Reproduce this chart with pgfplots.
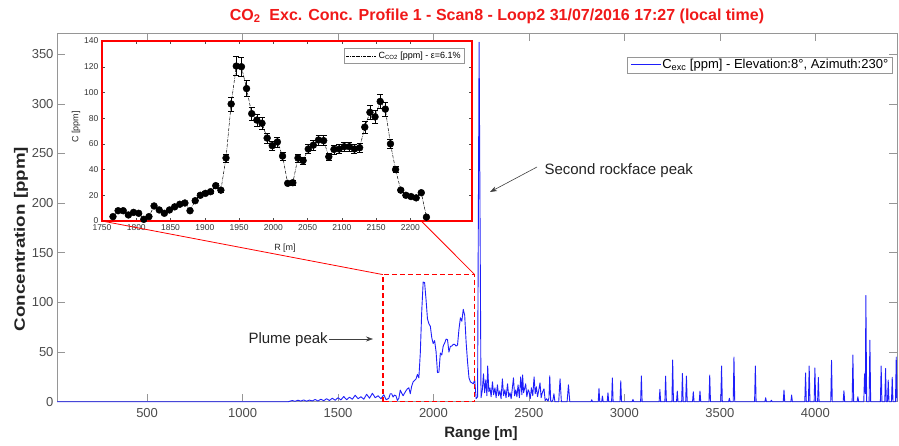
\documentclass[border=0pt]{standalone}
\usepackage{fontspec}
\setmainfont{Liberation Sans}
\usepackage{graphicx}
\usepackage{pgfplots}
\usepackage{pgfplotstable}
\pgfplotsset{compat=1.18}
\usetikzlibrary{arrows.meta}

\definecolor{sigblue}{RGB}{30,30,250}
\definecolor{framegray}{RGB}{150,150,150}
\definecolor{ticklab}{RGB}{75,75,75}
\definecolor{labdark}{RGB}{35,35,35}
\definecolor{titlered}{RGB}{240,25,25}

\newcommand{\fs}[1]{\fontsize{#1}{#1}\selectfont}

% Excess concentration along the line of sight (range in m, ppm)
\pgfplotstableread{
R C
28 0
1240 0
1245 0.3
1260 1.2
1275 0.4
1290 1.5
1305 0.6
1320 1.8
1335 0.5
1350 1.6
1365 0.8
1380 2.2
1395 0.7
1410 2.5
1425 1.0
1440 3.0
1455 1.2
1470 3.5
1485 1.5
1500 4.0
1515 1.8
1530 5.2
1545 2.0
1560 4.5
1575 2.5
1590 6.5
1605 3.0
1620 5.0
1635 2.5
1650 7.5
1665 3.5
1680 8.5
1695 4.0
1710 6.0
1725 3.0
1740 7.0
1752 2.0
1766.0 3.4
1773.5 8.0
1781.0 8.0
1788.5 4.7
1796.0 6.7
1803.5 6.0
1811.0 1.3
1818.5 3.4
1826.0 11.7
1833.5 8.6
1841.0 6.0
1848.5 8.6
1856.0 11.0
1863.5 13.0
1871.0 14.0
1878.5 8.0
1886.0 15.8
1893.5 20.0
1901.0 21.5
1908.5 22.8
1916.0 27.5
1923.5 24.0
1931.0 49.0
1938.5 91.0
1946.0 120.5
1953.5 120.0
1961.0 103.0
1968.5 83.5
1976.0 78.5
1983.5 76.0
1991.0 64.5
1998.5 58.6
2006.0 61.5
2013.5 50.5
2021.0 29.3
2028.5 29.8
2036.0 49.0
2043.5 47.0
2051.0 56.0
2058.5 59.0
2066.0 63.0
2073.5 62.5
2081.0 50.0
2088.5 55.7
2096.0 56.0
2103.5 57.8
2111.0 57.8
2118.5 56.0
2126.0 57.0
2133.5 73.0
2141.0 84.5
2148.5 81.0
2156.0 93.0
2163.5 87.0
2171.0 60.0
2178.5 40.0
2186.0 24.0
2193.5 20.0
2201.0 19.0
2208.5 18.0
2216.0 22.0
2223.5 3.0
2231 5
2239 362
2249 4
2256 12
2262 28
2268 9
2274 22
2280 6
2284 36
2290 10
2296 14
2302 5
2309 20
2315 7
2322 14
2328 4
2335 17
2341 6
2348 11
2354 3
2361 23
2367 6
2374 12
2380 4
2388 18
2394 5
2401 9
2407 3
2419 24
2425 6
2431 12
2437 5
2443 17
2450 4
2457 25
2463 7
2467 27
2472 9
2477 13
2483 18
2489 5
2496 12
2501 10
2507 3
2513 14
2520 6
2527 25
2533 8
2539 15
2545 5
2551 11
2558 19
2564 4
2570 9
2579 13
2585 1
2592 3
2600 0.5
2605 4
2609 26
2614 1
2620 0
2626 2
2631 8
2636 0
2656 0
2663 23
2670 0
2700 0
2707 17
2714 0
2825 0
2829 2
2833 0
2863 0
2867 13.4
2871 0
2881 0
2885 5.7
2889 0
2910 0
2914 9
2918 0
2933 0
2937 24
2941 0
2977 0
2981 21
2985 0
3041 0
3045 2.3
3049 0
3085 0
3089 26
3093 0
3182 0
3186 12.4
3190 0
3212 0
3216 25.8
3220 0
3249 0
3253 42
3257 0
3273 0
3277 10.7
3281 0
3300 0
3304 28.5
3308 0
3321 0
3325 25.8
3329 0
3357 0
3361 10
3365 0
3392 0
3396 10.7
3400 0
3443 0
3447 26.8
3451 0
3505 0
3509 36
3513 0
3546 0
3550 3.4
3554 0
3570 0
3574 45
3578 0
3682 0
3686 36
3690 0
3736 0
3740 4
3744 0
3766 0
3770 1.5
3774 0
3832 0
3836 11.7
3840 0
3872 0
3876 6.7
3880 0
3945 0
3949 29
3953 0
3964 0
3968 36
3972 0
3994 0
3998 34
4002 0
4012 0
4016 24.5
4020 0
4081 0
4085 41.6
4089 0
4146 0
4150 11
4154 0
4193 0
4197 47
4201 0
4219 0
4223 5
4227 0
4254 0
4258 28
4262 8
4265 107
4269 0
4282 0
4286 62
4290 0
4341 0
4345 36
4349 0
4364 0
4368 33.5
4372 0
4378 0
4382 21.8
4386 0
4399 0
4403 24.5
4407 0
4420 0
4424 45
4428 0
}\profile

% Plume section, 7.5 m range gates
\pgfplotstableread{
R C
1766.0 3.4
1773.5 8.0
1781.0 8.0
1788.5 4.7
1796.0 6.7
1803.5 6.0
1811.0 1.3
1818.5 3.4
1826.0 11.7
1833.5 8.6
1841.0 6.0
1848.5 8.6
1856.0 11.0
1863.5 13.0
1871.0 14.0
1878.5 8.0
1886.0 15.8
1893.5 20.0
1901.0 21.5
1908.5 22.8
1916.0 27.5
1923.5 24.0
1931.0 49.0
1938.5 91.0
1946.0 120.5
1953.5 120.0
1961.0 103.0
1968.5 83.5
1976.0 78.5
1983.5 76.0
1991.0 64.5
1998.5 58.6
2006.0 61.5
2013.5 50.5
2021.0 29.3
2028.5 29.8
2036.0 49.0
2043.5 47.0
2051.0 56.0
2058.5 59.0
2066.0 63.0
2073.5 62.5
2081.0 50.0
2088.5 55.7
2096.0 56.0
2103.5 57.8
2111.0 57.8
2118.5 56.0
2126.0 57.0
2133.5 73.0
2141.0 84.5
2148.5 81.0
2156.0 93.0
2163.5 87.0
2171.0 60.0
2178.5 40.0
2186.0 24.0
2193.5 20.0
2201.0 19.0
2208.5 18.0
2216.0 22.0
2223.5 3.0
}\plume

\begin{document}
\begin{tikzpicture}[x=1pt,y=1pt]
\useasboundingbox (0,0) rectangle (899,445);

% ---------- full profile ----------
\begin{axis}[
  at={(57pt,43.3pt)}, anchor=south west,
  scale only axis, width=840pt, height=368.4pt,
  xmin=28, xmax=4428, ymin=0, ymax=371,
  xtick={500,1000,...,4000}, ytick={0,50,...,350},
  tick align=inside, major tick length=8pt,
  tick style={framegray, line width=0.6pt},
  axis line style={framegray, line width=0.8pt},
  /pgf/number format/assume math mode=true,
  /pgf/number format/1000 sep={},
  ticklabel style={font=\fs{13}, text=ticklab},
  xticklabel style={yshift=-3pt},
  clip=false,
]
\addplot[sigblue, line width=0.9pt, line join=round] table[x=R, y=C] {\profile};
\draw[red, line width=1.4pt, dash pattern=on 5pt off 3pt]
  (axis cs:1735,0) rectangle (axis cs:2216,128);
\coordinate (boxL) at (axis cs:1735,128);
\coordinate (boxR) at (axis cs:2216,128);
\end{axis}

% legend of the full profile
\node[draw=framegray, fill=white, line width=0.6pt, anchor=north west,
  inner xsep=4pt, inner ysep=2pt, font=\fs{13}] (lg) at (627,388)
  {{\color{sigblue}\rule[0.3em]{30pt}{1pt}}\hspace{1pt}C\textsubscript{exc} [ppm] - Elevation:8°, Azimuth:230°};

% ---------- plume detail ----------
\begin{axis}[
  at={(102pt,224pt)}, anchor=south west,
  scale only axis, width=370pt, height=180pt,
  xmin=1750, xmax=2290, ymin=0, ymax=140,
  xtick={1750,1800,...,2200}, ytick={0,20,...,140},
  axis background/.style={fill=white},
  axis line style={red, line width=1.4pt},
  tick align=inside, major tick length=3pt,
  tick style={black!70, line width=0.4pt},
  /pgf/number format/assume math mode=true,
  /pgf/number format/1000 sep={},
  ticklabel style={font=\fs{8.5}, text=black!80},
  xticklabel style={inner sep=1.5pt, yshift=-2pt},
  yticklabel style={inner sep=3.5pt},
  legend style={at={(0.981,0.961)}, anchor=north east, draw=framegray,
    fill=white, font=\fs{9}, inner xsep=2pt, inner ysep=1.5pt, line width=0.6pt},
]
\addplot[black, densely dashdotted, line width=0.5pt,
  mark=*, mark size=3.4pt, mark options={solid, fill=black},
  legend image code/.code={\draw[black, densely dashdotted, line width=0.5pt] (0pt,0pt) -- (30pt,0pt);},
  error bars/.cd, y dir=both, y fixed relative=0.061,
  error bar style={black, solid, line width=0.5pt},
  error mark options={rotate=90, mark size=3pt, black, solid, line width=0.5pt}]
  table[x=R, y=C] {\plume};
\addlegendentry{C\textsubscript{CO2} [ppm] - ε=6.1\%}
\coordinate (insL) at (rel axis cs:0,0);
\coordinate (insR) at (axis cs:2216,0);
\end{axis}

% connectors between the detail frame and the plume window
\draw[red, line width=0.8pt] (boxL) -- (insL);
\draw[red, line width=0.8pt] (boxR) -- (insR);

% titles and labels
\node[font=\bfseries\fs{16}, text=titlered] at (497,429)
  {CO\textsubscript{2}\ \ Exc. Conc. Profile 1 - Scan8 - Loop2 31/07/2016 17:27 (local time)};
\node[font=\bfseries\fs{15}, text=labdark] at (481,11) {Range [m]};
\node[rotate=90, text=labdark] at (21,206)
  {\scalebox{1.25}[1]{\bfseries\fs{15}Concentration [ppm]}};
\node[font=\fs{9}, text=black!85] at (285,197) {R [m]};
\node[rotate=90, font=\fs{9}, text=black!85] at (76,318) {C [ppm]};

% annotations
\node[anchor=west, font=\fs{15}, text=labdark] at (541,274) {Second rockface peak};
\draw[black!75, line width=0.6pt, -{Stealth[length=7pt,width=5pt]}] (537,278) -- (490,253);
\node[anchor=west, font=\fs{15}, text=labdark] at (245,105) {Plume peak};
\draw[black!75, line width=0.6pt, -{Stealth[length=7pt,width=5pt]}] (329,106) -- (373,106);
\end{tikzpicture}
\end{document}
